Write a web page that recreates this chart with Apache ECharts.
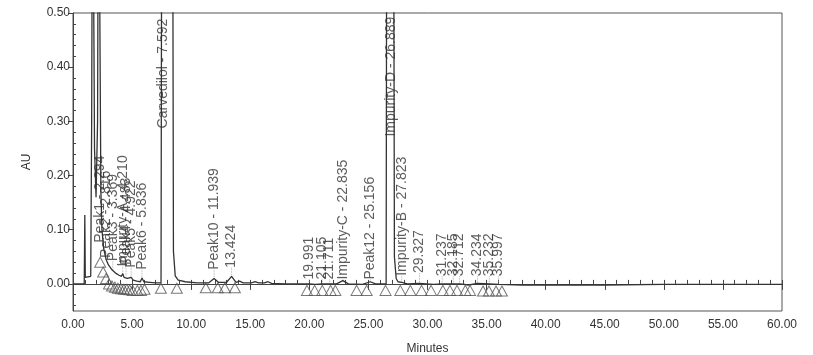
<!DOCTYPE html>
<html>
<head>
<meta charset="utf-8">
<script src="https://cdn.jsdelivr.net/npm/echarts@6/dist/echarts.min.js"></script>
<style>
  html, body { margin: 0; padding: 0; background: #fff; }
  #chrom { width: 813px; height: 355px; }
</style>
</head>
<body>
<div id="chrom"></div>
<script>
// 크로마토그램 데이터
var traceTime = [0, 0.95, 1.0, 1.04, 1.08, 1.5, 1.58, 1.66, 1.74, 1.82, 1.95, 2.08, 2.16, 2.28, 2.36, 2.45, 2.6, 2.8, 3.0, 3.3, 3.6, 3.9, 4.1, 4.21, 4.32, 4.48, 4.6, 4.92, 5.1, 5.4, 5.7, 5.84, 6.0, 6.5, 7.0, 7.45, 7.52, 8.42, 8.5, 8.65, 8.9, 9.5, 10.5, 11.5, 11.94, 12.3, 13.0, 13.42, 13.8, 14.1, 14.4, 15.1, 15.4, 15.7, 16.2, 16.5, 16.8, 18.0, 19.99, 20.5, 21.1, 21.7, 22.3, 22.84, 23.3, 24.5, 25.16, 25.6, 26.5, 26.56, 27.12, 27.2, 27.35, 27.5, 27.82, 28.3, 29.33, 30.5, 31.24, 32.19, 32.71, 33.5, 34.23, 35.23, 36.0, 38, 40, 45, 50, 55, 60];
var traceAU = [0, 0, 0.127, 0.012, 0.013, 0.014, 0.3, 0.9, 0.9, 0.25, 0.16, 0.3, 0.9, 0.9, 0.17, 0.1, 0.065, 0.045, 0.035, 0.026, 0.02, 0.016, 0.014, 0.019, 0.012, 0.014, 0.01, 0.012, 0.007, 0.005, 0.004, 0.011, 0.004, 0.003, 0.002, 0.002, 0.9, 0.9, 0.06, 0.015, 0.007, 0.004, 0.002, 0.002, 0.01, 0.003, 0.003, 0.014, 0.003, 0.005, 0.002, 0.002, 0.004, 0.002, 0.002, 0.004, 0.001, 0, 0, -0.001, 0, 0, 0, 0.006, 0, -0.001, 0.004, 0, 0, 0.9, 0.9, 0.05, 0.01, 0.004, 0.003, 0, 0.001, -0.001, 0, 0, 0, -0.002, 0.001, 0, -0.001, -0.002, -0.002, -0.002, -0.001, -0.001, -0.001];

// 피크 라벨
var peakNames = ['Peak1 - 2.294', 'Peak2 - 2.816', 'Peak3 - 3.369', 'Impurity-A - 4.210', 'Peak4 - 4.483', 'Peak5 - 4.922', 'Peak6 - 5.836',
  'Carvedilol - 7.592', 'Peak10 - 11.939', '13.424', '19.991', '21.105', '21.711', 'Impurity-C - 22.835', 'Peak12 - 25.156',
  'Impurity-D - 26.889', 'Impurity-B - 27.823', '29.327', '31.237', '32.185', '32.712', '34.234', '35.232', '35.997'];
var peakTime = [2.294, 2.816, 3.369, 4.210, 4.483, 4.922, 5.836, 7.592, 11.939, 13.424, 19.991, 21.105, 21.711, 22.835, 25.156,
  26.889, 27.823, 29.327, 31.237, 32.185, 32.712, 34.234, 35.232, 35.997];
// 라벨 시작 위치 (AU)
var labelAU = [0.076, 0.048, 0.042, 0.032, 0.035, 0.030, 0.026, 0.287, 0.026, 0.030, 0.008, 0.008, 0.008, 0.008, 0.008,
  0.272, 0.015, 0.020, 0.014, 0.014, 0.014, 0.014, 0.014, 0.014];

// 적분 마커 (삼각형)
var markTime = [2.3, 2.55, 2.8, 3.05, 3.3, 3.55, 3.8, 4.05, 4.3, 4.55, 4.8, 5.05, 5.45, 5.75, 6.05, 7.44, 8.79, 11.24, 12.25, 12.85, 13.7,
  19.8, 20.45, 21.1, 21.8, 22.2, 24.0, 24.85, 26.45, 27.7, 28.55, 29.5, 30.3, 31.3, 31.9, 32.5, 33.2, 33.6, 34.7, 35.2, 35.8, 36.3];
var markAU = [0.04, 0.022, 0.01, 0.0, -0.004, -0.006, -0.008, -0.009, -0.01, -0.01, -0.011, -0.012, -0.012, -0.012, -0.01, -0.008, -0.008, -0.007, -0.007, -0.007, -0.007,
  -0.012, -0.012, -0.012, -0.012, -0.012, -0.012, -0.012, -0.012, -0.012, -0.012, -0.012, -0.012, -0.012, -0.012, -0.012, -0.012, -0.012, -0.013, -0.013, -0.013, -0.013];

// 축 눈금
var yLabels = [0, 0.1, 0.2, 0.3, 0.4, 0.5];
var yMinor = [-0.04, -0.02, 0.02, 0.04, 0.06, 0.08, 0.12, 0.14, 0.16, 0.18, 0.22, 0.24, 0.26, 0.28, 0.32, 0.34, 0.36, 0.38, 0.42, 0.44, 0.46, 0.48];

var fontName = 'Liberation Sans';
var inkColor = '#333';

var traceData = traceTime.map(function (t, i) { return [t, traceAU[i]]; });
var labelData = peakNames.map(function (n, i) { return { name: n, value: [peakTime[i], labelAU[i]] }; });
var markData = markTime.map(function (t, i) { return [t, markAU[i]]; });

// 라벨 아래 점선 (곡선 높이까지)
function curveAt(t) {
  for (var i = 1; i < traceTime.length; i++) {
    if (traceTime[i] >= t) {
      var f = (t - traceTime[i - 1]) / (traceTime[i] - traceTime[i - 1]);
      return traceAU[i - 1] + f * (traceAU[i] - traceAU[i - 1]);
    }
  }
  return 0;
}
var dropData = [];
peakTime.forEach(function (t, i) {
  var c = Math.min(curveAt(t), labelAU[i]);
  dropData.push([t, labelAU[i]], [t, c], null);
});

var chrom = echarts.init(document.getElementById('chrom'));

var option = {
  animation: false,
  textStyle: { fontFamily: fontName },
  grid: {
    left: 73, right: 31, top: 13, bottom: 44,
    outerBoundsMode: 'none',
    show: true, borderColor: '#555', borderWidth: 1
  },
  xAxis: [
    {
      type: 'value', min: 0, max: 60, interval: 5,
      name: 'Minutes', nameLocation: 'middle', nameGap: 32,
      nameTextStyle: { color: inkColor, fontSize: 12, fontFamily: fontName },
      axisLine: { show: true, lineStyle: { color: '#444' } },
      axisTick: { show: true, length: 6, lineStyle: { color: '#444' } },
      axisLabel: {
        color: inkColor, fontSize: 12, margin: 8,
        formatter: function (v) { return v.toFixed(2); }
      },
      splitLine: { show: false }
    },
    {
      // 작은 눈금 (1분)
      type: 'value', min: 0, max: 60, interval: 1, position: 'bottom',
      axisLine: { show: false },
      axisTick: { show: true, inside: true, length: 4, lineStyle: { color: '#444' } },
      axisLabel: { show: false },
      splitLine: { show: false }
    }
  ],
  yAxis: [
    {
      type: 'value', min: -0.05, max: 0.5,
      name: 'AU', nameLocation: 'middle', nameGap: 40,
      nameTextStyle: { color: inkColor, fontSize: 12, fontFamily: fontName },
      axisLine: { show: true, lineStyle: { color: '#444' } },
      axisTick: { show: true, length: 5, customValues: yLabels, lineStyle: { color: '#444' } },
      axisLabel: {
        color: inkColor, fontSize: 12, margin: 3, customValues: yLabels,
        formatter: function (v) { return v.toFixed(2); }
      },
      splitLine: { show: false }
    },
    {
      type: 'value', min: -0.05, max: 0.5, position: 'left',
      axisLine: { show: false },
      axisTick: { show: true, inside: true, length: 3, customValues: yMinor, lineStyle: { color: '#444' } },
      axisLabel: { show: false },
      splitLine: { show: false }
    }
  ],
  series: [
    {
      name: 'drop',
      type: 'line',
      data: dropData,
      symbol: 'none',
      connectNulls: false,
      lineStyle: { color: '#999', width: 0.8, type: 'dotted' },
      silent: true,
      z: 1
    },
    {
      name: 'trace',
      type: 'line',
      data: traceData,
      symbol: 'none',
      clip: true,
      lineStyle: { color: '#333', width: 1.3 },
      z: 3
    },
    {
      name: 'marks',
      type: 'scatter',
      data: markData,
      symbol: 'triangle',
      symbolSize: [11, 10],
      itemStyle: { color: 'rgba(0,0,0,0)', borderColor: '#555', borderWidth: 1 },
      z: 4
    },
    {
      name: 'labels',
      type: 'scatter',
      data: labelData,
      symbolSize: 0,
      label: {
        show: true,
        position: [0, 0],
        rotate: 90,
        align: 'left',
        verticalAlign: 'middle',
        fontSize: 14,
        fontFamily: fontName,
        color: inkColor,
        formatter: function (p) { return p.name; }
      },
      z: 5
    }
  ]
};

chrom.setOption(option);
</script>
</body>
</html>
